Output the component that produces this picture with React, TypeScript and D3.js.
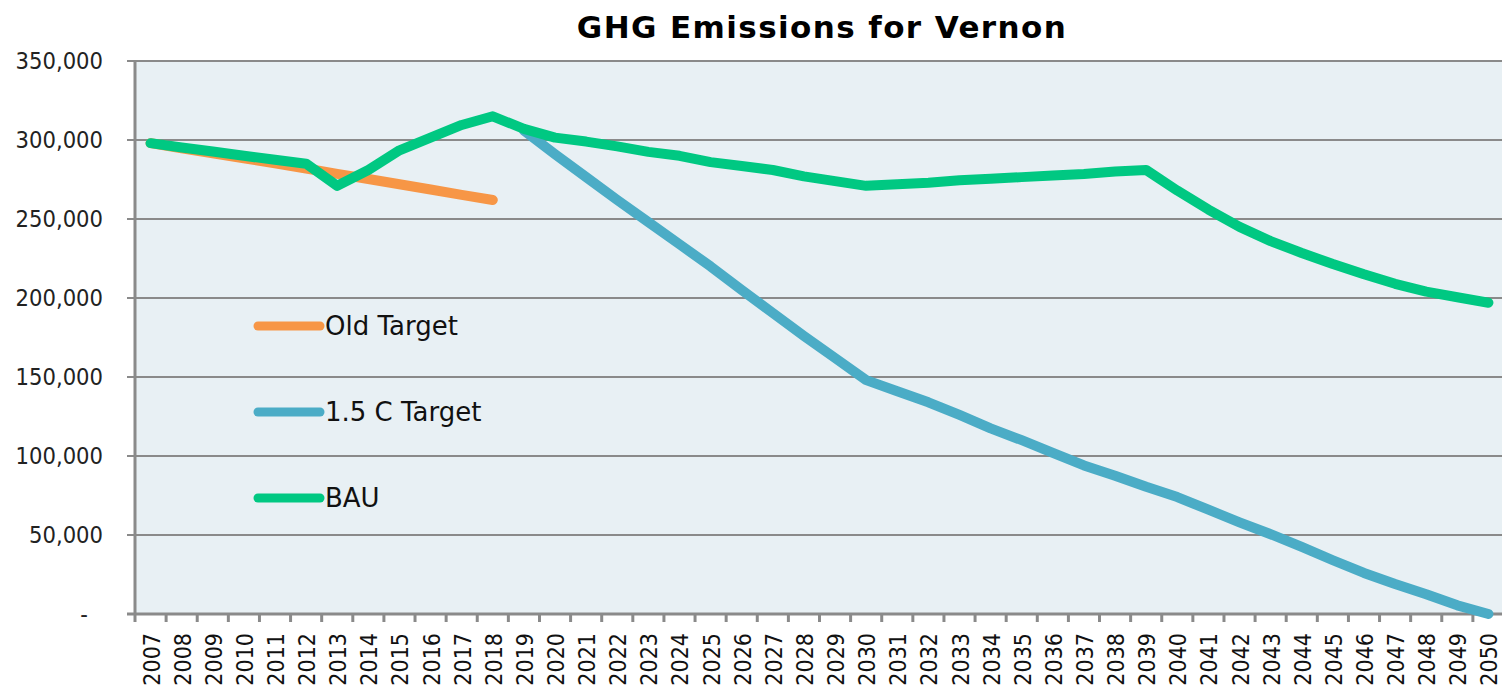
import React from 'react'
import * as d3 from 'd3'

const years = [
  2007, 2008, 2009, 2010, 2011, 2012, 2013, 2014, 2015, 2016, 2017,
  2018, 2019, 2020, 2021, 2022, 2023, 2024, 2025, 2026, 2027, 2028,
  2029, 2030, 2031, 2032, 2033, 2034, 2035, 2036, 2037, 2038, 2039,
  2040, 2041, 2042, 2043, 2044, 2045, 2046, 2047, 2048, 2049, 2050,
]

// 2007 - 2018
const oldTarget = [
  298000, 294800, 291600, 288400, 285200, 282000, 278600, 275300, 272000,
  268700, 265300, 262000,
]

// 2019 - 2050
const target15 = [
  306000, 291000, 276500, 262000, 248000, 234000, 220000, 205000, 190500,
  176000, 162000, 148000, 141000, 134000, 126000, 117500, 110000, 102000,
  94000, 87500, 80500, 74000, 66000, 58000, 50500, 42500, 34000, 26000,
  19000, 12500, 5500, 0,
]

// 2007 - 2050
const bau = [
  298000, 295300, 292700, 290000, 287500, 285000, 271000, 281000, 293500,
  301500, 309500, 315000, 307000, 301500, 299000, 296000, 292500, 290000,
  286000, 283500, 281000, 277000, 274000, 271000, 272000, 273000, 274500,
  275500, 276500, 277500, 278500, 280000, 281000, 268000, 256000, 245000,
  236000, 228500, 221500, 215000, 209000, 204000, 200500, 197000,
]

const yTicks = [0, 50000, 100000, 150000, 200000, 250000, 300000, 350000]

const series = [
  { name: 'Old Target', color: '#f79646', start: 2007, values: oldTarget },
  { name: '1.5 C Target', color: '#4bacc6', start: 2019, values: target15 },
  { name: 'BAU', color: '#00c882', start: 2007, values: bau },
]

const width = 1502
const height = 687
const left = 135
const right = 1504
const top = 61
const bottom = 614
const condensed = '"DejaVu Sans Condensed", "DejaVu Sans", sans-serif'
const wide = '"DejaVu Sans", sans-serif'

const App = () => {
  const x = d3
    .scaleBand<number>()
    .domain(years)
    .range([left, right])
    .paddingInner(0)
    .paddingOuter(0)

  const y = d3.scaleLinear().domain([0, 350000]).range([bottom, top])

  const cx = (year: number) => (x(year) ?? 0) + x.bandwidth() / 2

  const line = d3
    .line<[number, number]>()
    .x(d => cx(d[0]))
    .y(d => y(d[1]))

  const fmt = d3.format(',')

  return (
    <svg
      width={width}
      height={height}
      style={{ position: 'absolute', left: 0, top: 0, background: '#fff' }}
      fontFamily={condensed}
    >
      <rect
        x={left}
        y={top}
        width={right - left}
        height={bottom - top}
        fill="#e8f0f4"
      />
      {yTicks.map(t => (
        <g key={t}>
          <line
            x1={left - 8}
            x2={right}
            y1={y(t)}
            y2={y(t)}
            stroke="#8a8a8a"
            strokeWidth={t === 0 ? 3 : 2}
          />
          <text
            x={t === 0 ? 88 : 103}
            y={y(t)}
            textAnchor="end"
            dominantBaseline="central"
            fontSize={23.5}
            fill="#222"
          >
            {t === 0 ? '-' : fmt(t)}
          </text>
        </g>
      ))}
      <line x1={left} x2={left} y1={top} y2={bottom + 8} stroke="#8a8a8a" strokeWidth={3} />
      {years.map(yr => (
        <g key={yr}>
          <line
            x1={(x(yr) ?? 0) + x.bandwidth()}
            x2={(x(yr) ?? 0) + x.bandwidth()}
            y1={bottom}
            y2={bottom + 8}
            stroke="#8a8a8a"
            strokeWidth={3}
          />
          <text
            transform={`translate(${cx(yr) + 1},${633}) rotate(-90)`}
            textAnchor="end"
            dominantBaseline="central"
            fontSize={23}
            fill="#111"
          >
            {yr}
          </text>
        </g>
      ))}
      {series.map(s => (
        <path
          key={s.name}
          d={line(s.values.map((v, i) => [s.start + i, v] as [number, number])) ?? ''}
          fill="none"
          stroke={s.color}
          strokeWidth={10}
          strokeLinecap="round"
          strokeLinejoin="round"
        />
      ))}
      {series.map((s, i) => (
        <g key={s.name} transform={`translate(0,${326 + i * 86})`}>
          <line x1={258} x2={320} y1={0} y2={0} stroke={s.color} strokeWidth={9} strokeLinecap="round" />
          <text
            x={325}
            y={0}
            dominantBaseline="central"
            fontFamily={wide}
            fontSize={26}
            fill="#111"
          >
            {s.name}
          </text>
        </g>
      ))}
      <text
        x={822}
        y={38}
        textAnchor="middle"
        fontFamily={wide}
        fontSize={31}
        fontWeight="bold"
        letterSpacing={1.4}
        fill="#000"
      >
        GHG Emissions for Vernon
      </text>
    </svg>
  )
}

export default App
